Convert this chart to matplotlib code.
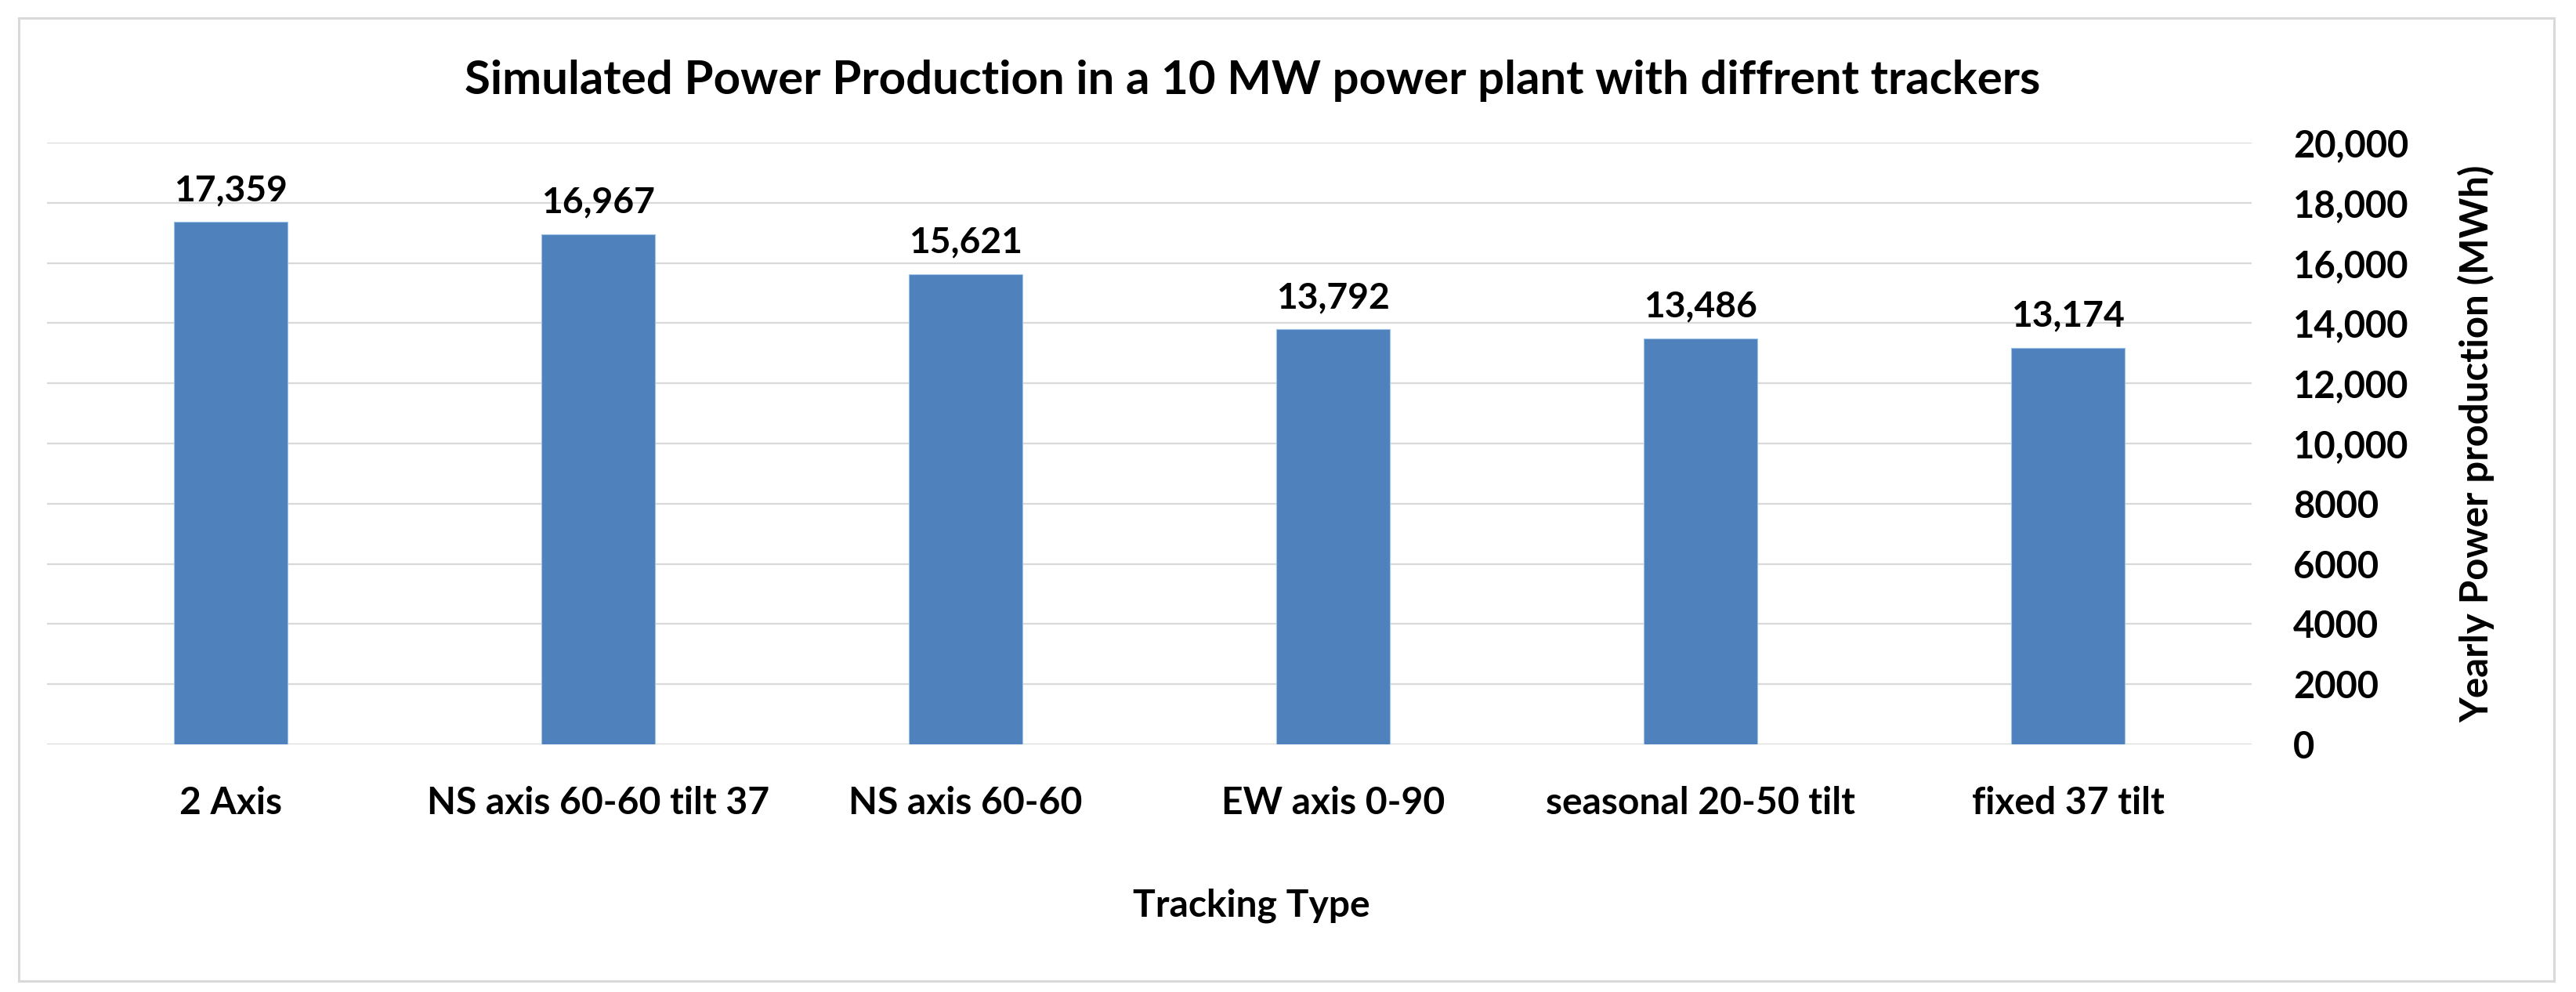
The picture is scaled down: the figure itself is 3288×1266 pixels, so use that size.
import matplotlib as mpl
mpl.use('Agg')
from matplotlib import pyplot as plt
from matplotlib.patches import Rectangle

# data
tracker_types = ['2 Axis', 'NS axis 60-60 tilt 37', 'NS axis 60-60',
                 'EW axis 0-90', 'seasonal 20-50 tilt', 'fixed 37 tilt']
yearly_mwh = [17359, 16967, 15621, 13792, 13486, 13174]
y_ticks = [0, 2000, 4000, 6000, 8000, 10000, 12000, 14000, 16000, 18000, 20000]
y_tick_labels = ['0', '2000', '4000', '6000', '8000', '10,000', '12,000',
                 '14,000', '16,000', '18,000', '20,000']

BAR_BLUE = '#4f81bd'
GRID_GREY = '#d9d9d9'


def fit_width(texts, ref, target_px, renderer):
    """scale a group of texts so that `ref` is target_px wide"""
    bb = ref.get_window_extent(renderer)
    w = max(bb.width, bb.height)  # rotated texts: use their long side
    k = target_px / w
    for t in texts:
        t.set_fontsize(t.get_fontsize() * k)


def setup_figure():
    plt.rcParams.update({'font.family': ['Lato', 'DejaVu Sans'],
                         'font.weight': 'bold'})
    fig = plt.figure(figsize=(32.88, 12.66), dpi=100)
    ax = fig.add_axes([0.0183, 0.2496, 0.8558, 0.6066])

    x = range(len(tracker_types))
    ax.bar(x, yearly_mwh, width=0.31, color=BAR_BLUE,
           edgecolor='#9dc3e6', linewidth=0.8, zorder=3)
    value_labels = []
    for xi, v in zip(x, yearly_mwh):
        value_labels.append(ax.annotate(f'{v:,}', (xi, v), xytext=(0, 14),
                                        textcoords='offset points', ha='center',
                                        va='bottom', fontsize=33, fontweight='bold'))

    ax.set_xlim(-0.5, len(tracker_types) - 0.5)
    ax.set_ylim(0, 20000)
    ax.set_yticks(y_ticks)
    ax.set_yticklabels(y_tick_labels, fontsize=33, fontweight='bold')
    ax.yaxis.tick_right()
    ax.tick_params(axis='y', length=0, pad=38)
    ax.set_xticks(list(x))
    ax.set_xticklabels(tracker_types, fontsize=30, fontweight='bold')
    ax.tick_params(axis='x', length=0, pad=38)

    ax.grid(axis='y', color=GRID_GREY, linewidth=1.6, zorder=0)
    for s in ax.spines.values():
        s.set_visible(False)

    ylab = fig.text(0.9614, 0.5529, 'Yearly Power production (MWh)', rotation=90,
                    ha='center', va='center', fontsize=37, fontweight='bold')
    xlab = fig.text(0.4857, 0.0766, 'Tracking Type', ha='center', va='baseline',
                    fontsize=35, fontweight='bold')
    title = fig.text(0.4863, 0.9052,
                     'Simulated Power Production in a 10 MW power plant with diffrent trackers',
                     ha='center', va='baseline', fontsize=45, fontweight='bold')

    # match text widths measured on the original chart (pixels)
    fig.canvas.draw()
    r = fig.canvas.get_renderer()
    yt = ax.get_yticklabels()
    xt = ax.get_xticklabels()
    fit_width(yt, yt[-1], 148, r)
    fit_width(xt, xt[1], 437, r)
    fit_width(value_labels, value_labels[0], 145, r)
    fit_width([ylab], ylab, 712, r)
    fit_width([xlab], xlab, 304, r)
    fit_width([title], title, 2012, r)

    # light chart border like the Excel chart area
    fig.patches.append(Rectangle((0.0073, 0.011), 0.9842, 0.9708,
                                 transform=fig.transFigure, fill=False,
                                 edgecolor=GRID_GREY, linewidth=2.2))
    fig.savefig('out.png', dpi=100, facecolor='white')


if __name__ == "__main__":
    setup_figure()
